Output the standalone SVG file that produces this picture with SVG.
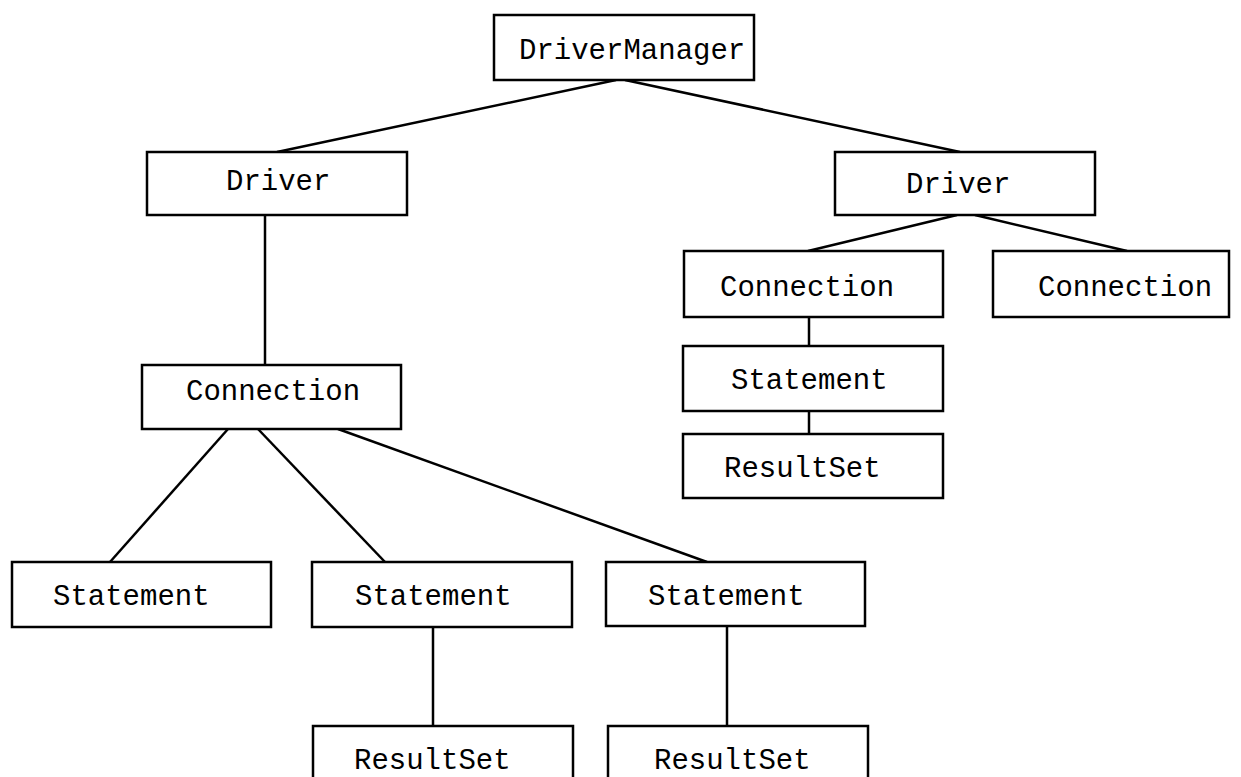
<svg xmlns="http://www.w3.org/2000/svg" width="1241" height="777" viewBox="0 0 1241 777">
  <style>
    .box { fill: #ffffff; stroke: #000000; stroke-width: 2.5; }
    .lbl { font-family: "Liberation Mono", "Courier New", monospace; font-size: 29px; fill: #000000; }
    .edge { stroke: #000000; stroke-width: 2.5; fill: none; }
  </style>
  <rect x="0" y="0" width="1241" height="777" fill="#ffffff"/>

  <!-- connectors -->
  <g id="connectors">
    <line class="edge" x1="616" y1="80" x2="277" y2="152"/>
    <line class="edge" x1="625" y1="80" x2="960" y2="152"/>
    <line class="edge" x1="265" y1="215" x2="265" y2="365"/>
    <line class="edge" x1="957" y1="215" x2="808" y2="251"/>
    <line class="edge" x1="975" y1="215" x2="1127" y2="251"/>
    <line class="edge" x1="809" y1="317" x2="809" y2="346"/>
    <line class="edge" x1="809" y1="411" x2="809" y2="434"/>
    <line class="edge" x1="228" y1="429" x2="110" y2="562"/>
    <line class="edge" x1="258" y1="429" x2="385" y2="562"/>
    <line class="edge" x1="338" y1="429" x2="707" y2="562"/>
    <line class="edge" x1="433" y1="627" x2="433" y2="726"/>
    <line class="edge" x1="727" y1="626" x2="727" y2="726"/>
  </g>

  <!-- nodes -->
  <g id="driver-manager">
    <rect class="box" x="494" y="15" width="260" height="65"/>
    <text class="lbl" x="519" y="59">DriverManager</text>
  </g>
  <g id="driver-left">
    <rect class="box" x="147" y="152" width="260" height="63"/>
    <text class="lbl" x="226" y="190">Driver</text>
  </g>
  <g id="driver-right">
    <rect class="box" x="835" y="152" width="260" height="63"/>
    <text class="lbl" x="906" y="193">Driver</text>
  </g>
  <g id="connection-right-1">
    <rect class="box" x="684" y="251" width="259" height="66"/>
    <text class="lbl" x="720" y="296">Connection</text>
  </g>
  <g id="connection-right-2">
    <rect class="box" x="993" y="251" width="236" height="66"/>
    <text class="lbl" x="1038" y="296">Connection</text>
  </g>
  <g id="statement-right">
    <rect class="box" x="683" y="346" width="260" height="65"/>
    <text class="lbl" x="731" y="389">Statement</text>
  </g>
  <g id="resultset-right">
    <rect class="box" x="683" y="434" width="260" height="64"/>
    <text class="lbl" x="724" y="477">ResultSet</text>
  </g>
  <g id="connection-left">
    <rect class="box" x="142" y="365" width="259" height="64"/>
    <text class="lbl" x="186" y="400">Connection</text>
  </g>
  <g id="statement-1">
    <rect class="box" x="12" y="562" width="259" height="65"/>
    <text class="lbl" x="53" y="605">Statement</text>
  </g>
  <g id="statement-2">
    <rect class="box" x="312" y="562" width="260" height="65"/>
    <text class="lbl" x="355" y="605">Statement</text>
  </g>
  <g id="statement-3">
    <rect class="box" x="606" y="562" width="259" height="64"/>
    <text class="lbl" x="648" y="605">Statement</text>
  </g>
  <g id="resultset-1">
    <rect class="box" x="313" y="726" width="260" height="64"/>
    <text class="lbl" x="354" y="769">ResultSet</text>
  </g>
  <g id="resultset-2">
    <rect class="box" x="608" y="726" width="260" height="64"/>
    <text class="lbl" x="654" y="769">ResultSet</text>
  </g>
</svg>
